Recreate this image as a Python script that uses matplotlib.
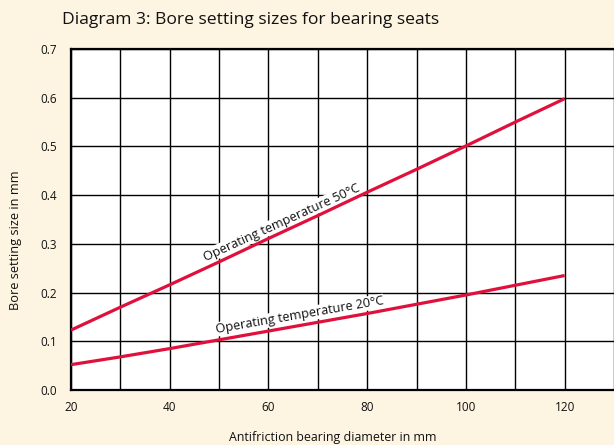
"""Diagram 3: bore setting sizes for bearing seats."""

import matplotlib
matplotlib.use("Agg")
import matplotlib.pyplot as plt
import numpy as np

CREAM = "#fdf4e1"
RED = "#e0103c"

diameter = [20, 30, 40, 50, 60, 70, 80, 90, 100, 110, 120]
setting_50c = [0.123, 0.170, 0.216, 0.263, 0.311, 0.358, 0.406, 0.453, 0.501, 0.550, 0.598]
setting_20c = [0.052, 0.068, 0.085, 0.103, 0.121, 0.139, 0.157, 0.176, 0.195, 0.215, 0.235]

x_ticks = [20, 40, 60, 80, 100, 120]
y_ticks = [0.0, 0.1, 0.2, 0.3, 0.4, 0.5, 0.6, 0.7]

plt.rcParams.update({"font.family": "Open Sans", "font.size": 8.5})

fig = plt.figure(figsize=(6.14, 4.45), dpi=100, facecolor=CREAM)
ax = fig.add_axes([71 / 614, 55 / 445, 1 - 71 / 614, 341 / 445])
ax.set_facecolor("white")

ax.set_xlim(20, 129.7)
ax.set_ylim(0, 0.7)
ax.set_xticks(np.arange(20, 131, 10), minor=True)
ax.set_xticks(x_ticks, [str(v) for v in x_ticks])
ax.set_yticks(y_ticks, [f"{v:.1f}" for v in y_ticks])
ax.grid(True, which="both", color="black", lw=1.0)
ax.tick_params(which="both", length=0, pad=8, colors="#111111")
ax.tick_params(axis="y", pad=10)
for side in ["left", "bottom", "top"]:
    ax.spines[side].set_linewidth(1.6)
ax.spines["right"].set_visible(False)

ax.plot(diameter, setting_50c, color=RED, lw=2.3, zorder=3, solid_capstyle="butt")
ax.plot(diameter, setting_20c, color=RED, lw=2.3, zorder=3, solid_capstyle="butt")


def line_label(text, x, xs, ys, angle, offset):
    y = np.interp(x, xs, ys)
    rad = np.deg2rad(angle)
    ax.annotate(
        text, (x, y), xytext=(-offset * np.sin(rad), offset * np.cos(rad)),
        textcoords="offset points", rotation=angle, rotation_mode="anchor",
        ha="center", va="baseline", fontsize=9.2, color="#111111", zorder=2.5,
        bbox=dict(boxstyle="square,pad=0.05", fc="white", ec="none"),
    )


line_label("Operating temperature 50°C", 63.4, diameter, setting_50c, 24.5, 4.0)
line_label("Operating temperature 20°C", 66.6, diameter, setting_20c, 9.8, 4.8)

fig.text(62 / 614, 1 - 20 / 445, "Diagram 3: Bore setting sizes for bearing seats",
         fontsize=12.6, va="center", ha="left", color="#111111")
fig.text(333 / 614, 1 - 437 / 445, "Antifriction bearing diameter in mm",
         fontsize=8.9, va="center", ha="center", color="#111111")
fig.text(16 / 614, 1 - 240 / 445, "Bore setting size in mm", rotation=90,
         fontsize=9.2, va="center", ha="center", color="#111111")

fig.savefig("out.png", dpi=100, facecolor=CREAM)
